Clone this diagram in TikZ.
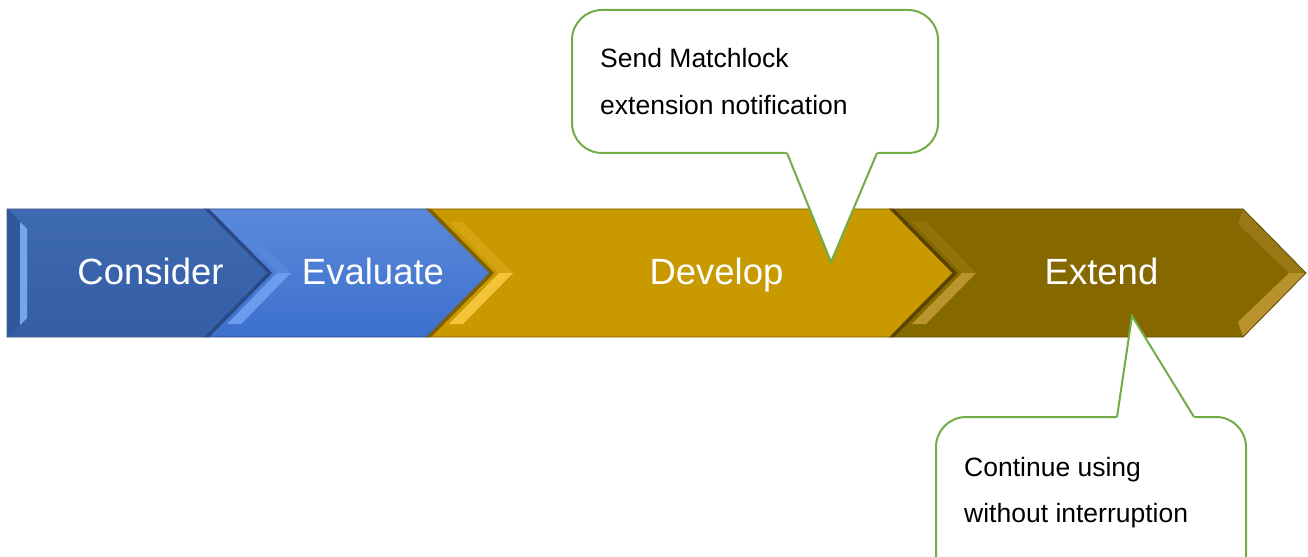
\documentclass[tikz,border=0pt]{standalone}
\usepackage{fontspec}
\setmainfont{Liberation Sans}
\definecolor{cblueT}{RGB}{62,106,178}
\definecolor{cblueB}{RGB}{52,94,166}
\definecolor{cstrip}{RGB}{118,166,240}
\definecolor{cedge}{RGB}{70,90,130}
\definecolor{eblueT}{RGB}{90,137,218}
\definecolor{eblueB}{RGB}{60,112,205}
\definecolor{eshadow}{RGB}{40,72,135}
\definecolor{eup}{RGB}{84,134,220}
\definecolor{elow}{RGB}{108,156,238}
\definecolor{eedge}{RGB}{45,75,140}
\definecolor{dgold}{RGB}{201,153,0}
\definecolor{dshadow}{RGB}{128,96,0}
\definecolor{dup}{RGB}{214,164,18}
\definecolor{dlow}{RGB}{244,196,56}
\definecolor{dedge}{RGB}{130,98,0}
\definecolor{xgold}{RGB}{134,104,0}
\definecolor{xshadow}{RGB}{88,66,0}
\definecolor{xup}{RGB}{146,114,10}
\definecolor{xlow}{RGB}{186,148,44}
\definecolor{xrup}{RGB}{152,120,20}
\definecolor{xrlow}{RGB}{184,146,44}
\definecolor{xedge}{RGB}{95,72,0}
\definecolor{cgreen}{RGB}{112,173,71}
\tikzset{
  chevtext/.style={text=white, font=\fontsize{36.5bp}{40bp}\selectfont, anchor=base, inner sep=0pt},
  callout/.style={draw=cgreen, line width=2bp, fill=white, rounded corners=30bp},
  tailline/.style={draw=cgreen, line width=2bp, line join=miter},
  calltext/.style={text=black, font=\fontsize{26.5bp}{30bp}\selectfont, anchor=base west, inner sep=0pt},
  edge/.style={line width=0.8bp}
}
% left notch bevel of a chevron: #1 left x, #2 shadow, #3 upper facet, #4 lower facet
\newcommand{\leftbevel}[4]{%
  \begin{scope}
    \clip (#1,209) -- (#1+400,209) -- (#1+400,337) -- (#1,337) -- (#1+63,273) -- cycle;
    \draw[#2, line width=6bp] (#1,209) -- (#1+63,273) -- (#1,337);
  \end{scope}
  \fill[#3] (#1+22,222) -- (#1+72,273) -- (#1+86,273) -- (#1+36,222) -- cycle;
  \fill[#4] (#1+72,273) -- (#1+22,324) -- (#1+36,324) -- (#1+86,273) -- cycle;
}
\begin{document}
\begin{tikzpicture}[x=1bp,y=-1bp]
\useasboundingbox (0,0) rectangle (1308,557);
\clip (0,0) rectangle (1308,557);

% ---- Consider
\shade[top color=cblueT, bottom color=cblueB]
  (7,209) -- (205,209) -- (268,273) -- (205,337) -- (7,337) -- cycle;
\fill[cblueB!93!black] (7,209) -- (20,222) -- (20,324) -- (7,337) -- cycle;
\fill[cstrip] (20,222) -- (27,229) -- (27,318) -- (20,325) -- cycle;
\draw[edge, cedge] (7,209) -- (205,209) -- (268,273) -- (205,337) -- (7,337) -- cycle;

% ---- Evaluate
\shade[top color=eblueT, bottom color=eblueB]
  (205,209) -- (427,209) -- (490,273) -- (427,337) -- (205,337) -- (268,273) -- cycle;
\leftbevel{205}{eshadow}{eup}{elow}
\draw[edge, eedge] (205,209) -- (427,209) -- (490,273) -- (427,337) -- (205,337) -- (268,273) -- cycle;

% ---- Develop
\fill[dgold] (427,209) -- (890,209) -- (953,273) -- (890,337) -- (427,337) -- (490,273) -- cycle;
\leftbevel{427}{dshadow}{dup}{dlow}
\draw[edge, dedge] (427,209) -- (890,209) -- (953,273) -- (890,337) -- (427,337) -- (490,273) -- cycle;

% ---- Extend
\fill[xgold] (890,209) -- (1243,209) -- (1306,273) -- (1243,337) -- (890,337) -- (953,273) -- cycle;
\leftbevel{890}{xshadow}{xup}{xlow}
\fill[xrup] (1243,209) -- (1306,273) -- (1289,273) -- (1238,224) -- cycle;
\fill[xrlow] (1306,273) -- (1243,337) -- (1238,322) -- (1289,273) -- cycle;
\draw[edge, xedge] (890,209) -- (1243,209) -- (1306,273) -- (1243,337) -- (890,337) -- (953,273) -- cycle;

% ---- chevron labels
\node[chevtext] (consider) at (150.5,284.5) {Consider};
\node[chevtext] (evaluate) at (373,284.5) {Evaluate};
\node[chevtext] (develop) at (716.5,284.5) {Develop};
\node[chevtext] (extend) at (1101.5,284.5) {Extend};

% ---- callout 1 (top)
\path[callout] (572,10) rectangle (938,153);
\fill[white] (785.8,150) -- (878.3,150) -- (831,262) -- cycle;
\coordinate (tipA) at (831,262);
\draw[tailline] (787,153) -- (tipA) -- (877,153);
\node[calltext] (sendtext) at (600,68) {Send Matchlock};
\node[calltext] (exttext) at (600,115) {extension notification};

% ---- callout 2 (bottom)
\path[callout] (936,417) rectangle (1246,620);
\fill[white] (1116.5,420) -- (1195.8,420) -- (1132,316) -- cycle;
\coordinate (tipB) at (1132,316);
\draw[tailline] (1117,417) -- (tipB) -- (1194,417);
\node[calltext] (conttext) at (964,476) {Continue using};
\node[calltext] (withtext) at (964,522) {without interruption};
\end{tikzpicture}
\end{document}
